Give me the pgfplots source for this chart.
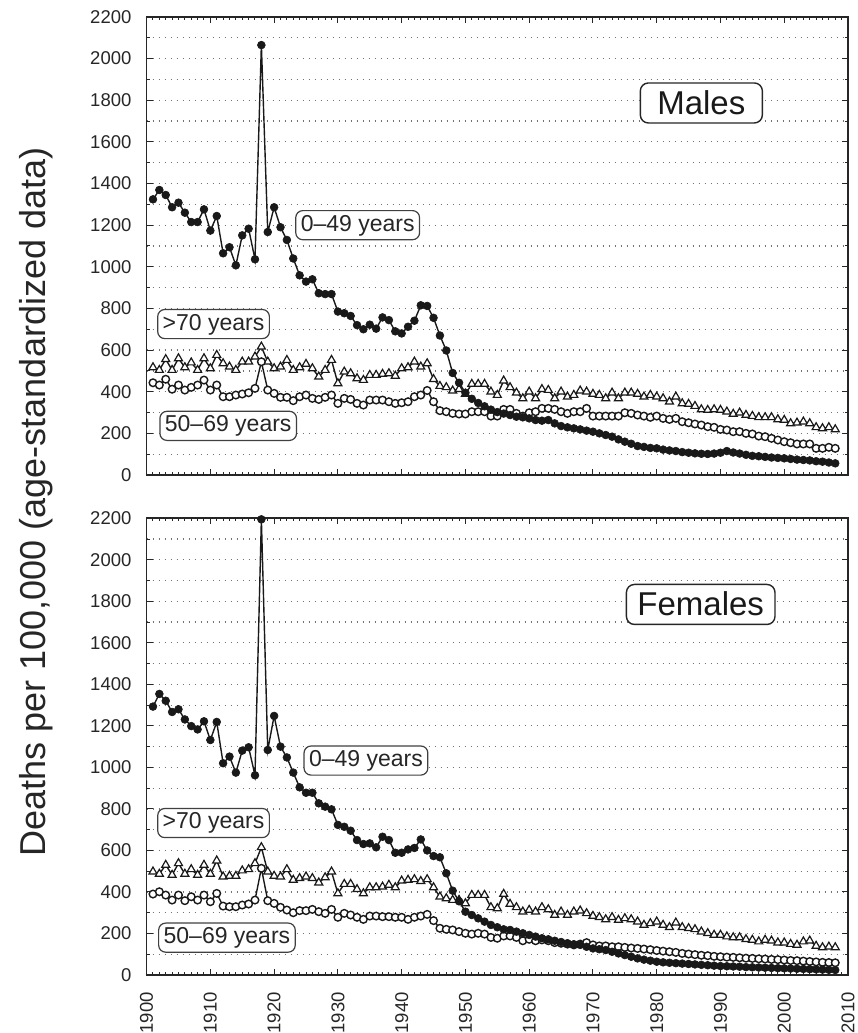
\documentclass[border=0pt]{standalone}
\usepackage{fontspec}
\setmainfont{Liberation Sans}
\usepackage{pgfplots}
\pgfplotsset{compat=1.18}

\pgfplotstableread{
year v
1901 1324
1902 1369
1903 1345
1904 1286
1905 1308
1906 1260
1907 1215
1908 1215
1909 1276
1910 1174
1911 1244
1912 1065
1913 1094
1914 1007
1915 1151
1916 1183
1917 1036
1918 2065
1919 1167
1920 1286
1921 1190
1922 1129
1923 1040
1924 959
1925 929
1926 940
1927 873
1928 869
1929 869
1930 785
1931 777
1932 764
1933 720
1934 700
1935 722
1936 703
1937 757
1938 744
1939 690
1940 680
1941 712
1942 741
1943 815
1944 812
1945 755
1946 670
1947 598
1948 490
1949 443
1950 395
1951 366
1952 346
1953 330
1954 314
1955 302
1956 295
1957 288
1958 280
1959 277
1960 272
1961 264
1962 261
1963 264
1964 248
1965 235
1966 229
1967 224
1968 219
1969 213
1970 208
1971 200
1972 192
1973 184
1974 171
1975 160
1976 150
1977 139
1978 135
1979 130
1980 128
1981 122
1982 118
1983 115
1984 110
1985 107
1986 104
1987 102
1988 101
1989 103
1990 107
1991 115
1992 108
1993 103
1994 97
1995 92
1996 90
1997 87
1998 84
1999 82
2000 80
2001 77
2002 74
2003 72
2004 70
2005 66
2006 64
2007 60
2008 56
}\mA

\pgfplotstableread{
year v
1901 443
1902 432
1903 460
1904 412
1905 432
1906 408
1907 421
1908 432
1909 456
1910 408
1911 432
1912 376
1913 376
1914 384
1915 389
1916 395
1917 416
1918 544
1919 408
1920 392
1921 373
1922 373
1923 357
1924 376
1925 384
1926 368
1927 363
1928 373
1929 384
1930 344
1931 368
1932 363
1933 344
1934 336
1935 360
1936 360
1937 360
1938 352
1939 344
1940 347
1941 352
1942 376
1943 384
1944 406
1945 352
1946 309
1947 304
1948 296
1949 293
1950 293
1951 304
1952 304
1953 304
1954 283
1955 283
1956 315
1957 315
1958 296
1959 283
1960 299
1961 304
1962 320
1963 320
1964 315
1965 304
1966 296
1967 304
1968 304
1969 320
1970 283
1971 283
1972 283
1973 283
1974 283
1975 299
1976 296
1977 288
1978 283
1979 277
1980 283
1981 272
1982 267
1983 272
1984 256
1985 251
1986 245
1987 240
1988 232
1989 229
1990 219
1991 216
1992 208
1993 208
1994 200
1995 197
1996 187
1997 184
1998 176
1999 168
2000 160
2001 155
2002 149
2003 149
2004 149
2005 128
2006 128
2007 133
2008 128
}\mB

\pgfplotstableread{
year v
1901 517
1902 504
1903 556
1904 504
1905 560
1906 517
1907 540
1908 504
1909 560
1910 512
1911 576
1912 536
1913 520
1914 504
1915 544
1916 544
1917 568
1918 616
1919 544
1920 512
1921 520
1922 552
1923 504
1924 517
1925 533
1926 512
1927 472
1928 504
1929 552
1930 440
1931 496
1932 488
1933 464
1934 456
1935 480
1936 480
1937 485
1938 488
1939 476
1940 512
1941 517
1942 544
1943 520
1944 536
1945 460
1946 427
1947 421
1948 405
1949 412
1950 389
1951 437
1952 437
1953 437
1954 400
1955 384
1956 453
1957 421
1958 395
1959 368
1960 400
1961 368
1962 412
1963 408
1964 368
1965 400
1966 376
1967 384
1968 405
1969 400
1970 389
1971 384
1972 368
1973 395
1974 368
1975 395
1976 395
1977 389
1978 376
1979 384
1980 376
1981 368
1982 352
1983 376
1984 344
1985 341
1986 331
1987 315
1988 312
1989 315
1990 312
1991 304
1992 293
1993 299
1994 288
1995 283
1996 277
1997 277
1998 277
1999 267
2000 264
2001 248
2002 251
2003 256
2004 248
2005 229
2006 224
2007 229
2008 219
}\mC

\pgfplotstableread{
year v
1901 1293
1902 1354
1903 1321
1904 1267
1905 1280
1906 1231
1907 1199
1908 1183
1909 1222
1910 1132
1911 1219
1912 1020
1913 1052
1914 975
1915 1081
1916 1097
1917 962
1918 2195
1919 1084
1920 1248
1921 1100
1922 1048
1923 975
1924 904
1925 878
1926 878
1927 827
1928 811
1929 798
1930 723
1931 714
1932 695
1933 650
1934 631
1935 634
1936 615
1937 666
1938 650
1939 589
1940 589
1941 605
1942 612
1943 653
1944 600
1945 573
1946 567
1947 490
1948 406
1949 355
1950 305
1951 289
1952 273
1953 257
1954 241
1955 230
1956 220
1957 217
1958 209
1959 201
1960 193
1961 185
1962 177
1963 172
1964 165
1965 159
1966 153
1967 148
1968 145
1969 136
1970 128
1971 124
1972 120
1973 112
1974 104
1975 96
1976 88
1977 80
1978 74
1979 69
1980 64
1981 61
1982 59
1983 57
1984 55
1985 53
1986 51
1987 49
1988 47
1989 45
1990 43
1991 42
1992 41
1993 40
1994 38
1995 37
1996 36
1997 35
1998 34
1999 33
2000 32
2001 31
2002 30
2003 29
2004 28
2005 27
2006 26
2007 25
2008 24
}\fA

\pgfplotstableread{
year v
1901 390
1902 401
1903 385
1904 361
1905 385
1906 358
1907 377
1908 361
1909 385
1910 353
1911 393
1912 332
1913 329
1914 329
1915 337
1916 342
1917 361
1918 514
1919 358
1920 345
1921 326
1922 313
1923 300
1924 310
1925 310
1926 316
1927 305
1928 297
1929 316
1930 278
1931 297
1932 289
1933 278
1934 268
1935 284
1936 284
1937 281
1938 281
1939 278
1940 278
1941 268
1942 278
1943 284
1944 292
1945 262
1946 225
1947 220
1948 217
1949 209
1950 201
1951 197
1952 201
1953 197
1954 181
1955 177
1956 188
1957 188
1958 181
1959 165
1960 172
1961 165
1962 169
1963 165
1964 156
1965 153
1966 149
1967 145
1968 149
1969 156
1970 145
1971 140
1972 140
1973 136
1974 136
1975 133
1976 130
1977 128
1978 125
1979 122
1980 118
1981 115
1982 112
1983 109
1984 104
1985 101
1986 98
1987 95
1988 93
1989 90
1990 88
1991 86
1992 85
1993 83
1994 81
1995 80
1996 78
1997 77
1998 75
1999 74
2000 72
2001 70
2002 69
2003 67
2004 65
2005 63
2006 61
2007 60
2008 59
}\fB

\pgfplotstableread{
year v
1901 498
1902 487
1903 530
1904 482
1905 538
1906 487
1907 509
1908 482
1909 530
1910 487
1911 551
1912 474
1913 477
1914 477
1915 503
1916 509
1917 538
1918 615
1919 498
1920 477
1921 474
1922 509
1923 458
1924 466
1925 474
1926 466
1927 445
1928 470
1929 498
1930 393
1931 438
1932 438
1933 413
1934 393
1935 422
1936 422
1937 425
1938 434
1939 422
1940 454
1941 458
1942 461
1943 452
1944 461
1945 422
1946 377
1947 369
1948 361
1949 361
1950 345
1951 385
1952 385
1953 385
1954 326
1955 321
1956 390
1957 342
1958 326
1959 305
1960 313
1961 305
1962 326
1963 316
1964 289
1965 305
1966 289
1967 305
1968 310
1969 297
1970 284
1971 278
1972 268
1973 278
1974 265
1975 273
1976 268
1977 257
1978 241
1979 249
1980 257
1981 241
1982 230
1983 252
1984 230
1985 225
1986 220
1987 209
1988 201
1989 193
1990 193
1991 185
1992 181
1993 181
1994 172
1995 169
1996 161
1997 169
1998 165
1999 156
2000 156
2001 149
2002 145
2003 161
2004 165
2005 140
2006 133
2007 136
2008 133
}\fC

\pgfplotsset{
  myaxis/.style={
    scale only axis, width=701.4pt,
    xmin=1900, xmax=2010, ymin=0, ymax=2200,
    xtick={1900,1910,...,2010}, minor x tick num=9,
    ytick={0,200,...,2200}, minor y tick num=1,
    tick align=inside, major tick length=6pt, minor tick length=3pt,
    ymajorgrids, yminorgrids,
    major grid style={black!55, line width=1.2pt, dash pattern=on 1.3pt off 4.7pt},
    minor grid style={black!55, line width=1.2pt, dash pattern=on 1.3pt off 4.7pt},
    axis line style={line width=1.6pt, black!85},
    every tick/.style={black!85, line width=1pt},
    tick label style={font=\fontsize{18.5}{20}\selectfont, text=black!85},
    /pgf/number format/assume math mode=true,
    /pgf/number format/set thousands separator={},
    yticklabel style={inner sep=0pt}, yticklabel shift=15pt,
    xticklabel style={rotate=90, anchor=east, inner sep=0pt}, xticklabel shift=17pt,
  },
  sA/.style={black!90, line width=1.4pt, mark=*, mark size=3.9pt, mark options={fill=black!90, line width=0.6pt}},
  sB/.style={black!90, line width=1.4pt, mark=*, mark size=3.8pt, mark options={fill=white, line width=1.4pt}},
  sC/.style={black!90, line width=1.4pt, mark=triangle*, mark size=4.6pt, mark options={fill=white, line width=1.2pt}},
}
\tikzset{
  lab/.style={draw=black!75, line width=1.2pt, rounded corners=7pt, fill=white, inner xsep=5pt, inner ysep=4pt,
    text height=16.5pt, text depth=4.6pt, font=\fontsize{23}{26}\selectfont, text=black!85},
  big/.style={draw=black!85, line width=1.4pt, rounded corners=8pt, fill=white, inner ysep=8pt,
    text height=23.5pt, text depth=0.5pt, font=\fontsize{33}{36}\selectfont, text=black!90},
}

\begin{document}
\begin{tikzpicture}
\useasboundingbox (-146.6pt,-58pt) rectangle (710.4pt,975pt);

% Males
\begin{axis}[myaxis, height=458pt, at={(0pt,500pt)}, anchor=south west, xticklabels={}]
\addplot[sC] table[x=year,y=v] {\mC};
\addplot[sB] table[x=year,y=v] {\mB};
\addplot[sA] table[x=year,y=v] {\mA};
\node[big, inner xsep=17pt] at (axis cs:1987,1787) {Males};
\node[lab] at (axis cs:1933.1,1200) {0–49 years};
\node[lab] at (axis cs:1910.5,725) {>70 years};
\node[lab] at (axis cs:1912.8,236) {50–69 years};
\end{axis}

% Females
\begin{axis}[myaxis, height=456.7pt, at={(0pt,0pt)}, anchor=south west]
\addplot[sC] table[x=year,y=v] {\fC};
\addplot[sB] table[x=year,y=v] {\fB};
\addplot[sA] table[x=year,y=v] {\fA};
\node[big, inner xsep=11pt] at (axis cs:1986.9,1785) {Females};
\node[lab] at (axis cs:1934.4,1033) {0–49 years};
\node[lab] at (axis cs:1910.5,732) {>70 years};
\node[lab] at (axis cs:1912.6,180) {50–69 years};
\end{axis}

\node[rotate=90, font=\fontsize{36}{40}\selectfont, text=black!85] at (-110pt,473pt) {Deaths per 100,000 (age-standardized data)};
\end{tikzpicture}
\end{document}
